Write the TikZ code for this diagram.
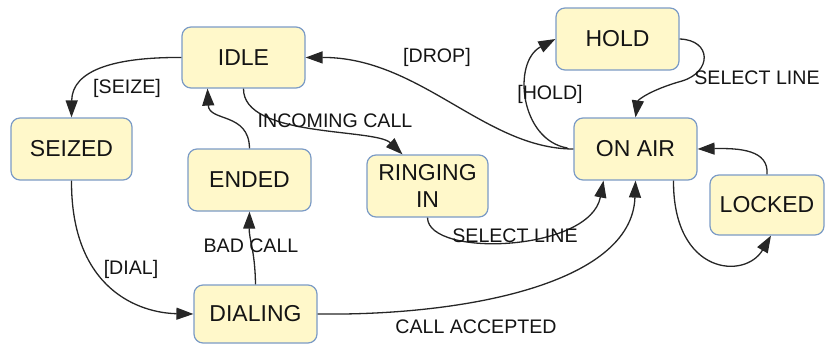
\documentclass[tikz,border=0pt]{standalone}
\usepackage{fontspec}
\setmainfont{Liberation Sans}
\usetikzlibrary{arrows.meta,calc}
\definecolor{boxfill}{HTML}{FFF8CA}
\definecolor{boxline}{HTML}{7B9BC6}
\definecolor{txt}{HTML}{141414}
\definecolor{edge}{HTML}{262626}
\tikzset{
  state/.style={draw=boxline, fill=boxfill, line width=1.2pt, rounded corners=9pt,
    minimum width=123pt, minimum height=61pt, inner sep=0pt, align=center,
    text=txt, font=\fontsize{23}{27}\selectfont},
  trans/.style={draw=edge, line width=1.3pt, -{Triangle[length=17pt,width=12pt]}},
  lbl/.style={text=txt, font=\fontsize{19.6}{22}\selectfont, inner sep=0pt}
}
\begin{document}
\begin{tikzpicture}[x=1pt,y=-1pt]
\useasboundingbox (0,0) rectangle (825,343);
% states
\node[state] (idle) at (243.5,57.5) {IDLE};
\node[state, minimum width=121pt, minimum height=62pt] (seized) at (71.5,149) {SEIZED};
\node[state, minimum height=62pt] (ended) at (249.5,180) {ENDED};
\node[state, minimum width=121pt, minimum height=62pt] (ringing) at (427.5,186) {RINGING\\IN};
\node[state, minimum height=58pt] (dialing) at (255.5,314) {DIALING};
\node[state, minimum height=62pt] (hold) at (617.5,39) {HOLD};
\node[state, minimum height=62pt] (onair) at (635.5,149) {ON AIR};
\node[state, minimum width=114pt, minimum height=60pt] (locked) at (767,205) {LOCKED};
% transitions
\draw[trans] (idle.west) .. controls (115,57) and (72,70) .. (seized.north);
\draw[trans] (ended.north) .. controls (249,112) and (209,122) .. ($(idle.south)+(-36,0)$);
\draw[trans] (idle.south) .. controls (243,138) and (375,128) .. ($(ringing.north)+(-25,0)$);
\draw[trans] (onair.west) .. controls (485,149) and (420,57) .. (idle.east);
\draw[trans] ($(onair.west)+(-6,-1)$) .. controls (520,140) and (512,62) .. (hold.west);
\draw[trans] (hold.east) .. controls (712,40) and (712,72) .. (682,81) .. controls (650,90) and (638,100) .. (onair.north);
\draw[trans] (locked.north) .. controls (769,150) and (740,148) .. (onair.east);
\draw[trans] ($(onair.south)+(38,0)$) .. controls (673,275) and (745,280) .. ($(locked.south)+(4,0)$);
\draw[trans] (ringing.south) .. controls (428,258) and (590,252) .. ($(onair.south)+(-32,0)$);
\draw[trans] (dialing.east) .. controls (460,316) and (632,285) .. (onair.south);
\draw[trans] (seized.south) .. controls (71,290) and (140,313) .. (dialing.west);
\draw[trans] (dialing.north) .. controls (255,250) and (249,240) .. (ended.south);
% labels
\node[lbl] (lseize) at (127,88) {[SEIZE]};
\node[lbl] (lincoming) at (335,121) {INCOMING CALL};
\node[lbl] (ldrop) at (437,57) {[DROP]};
\node[lbl] (lhold) at (550,94) {[HOLD]};
\node[lbl] (lsel1) at (757,78) {SELECT LINE};
\node[lbl] (lsel2) at (515,236) {SELECT LINE};
\node[lbl] (laccept) at (476,327) {CALL ACCEPTED};
\node[lbl] (ldial) at (131,269) {[DIAL]};
\node[lbl] (lbad) at (251,246) {BAD CALL};
\end{tikzpicture}
\end{document}
